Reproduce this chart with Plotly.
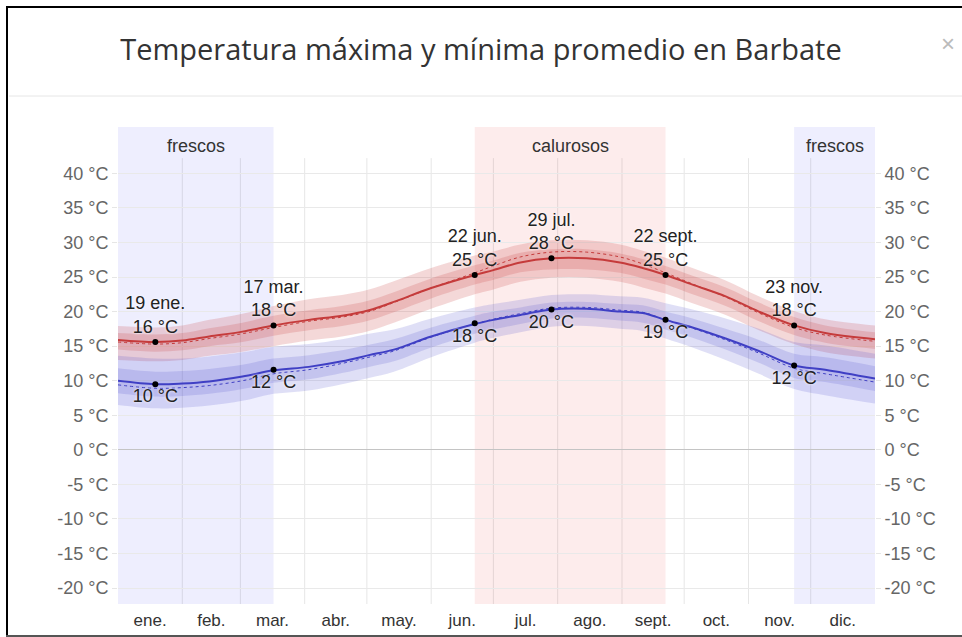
import plotly.graph_objects as go

# ---------------- data (day of year, °C) ----------------
days = [0, 18, 31, 44, 60, 75, 92, 108, 121, 133, 151, 172, 181, 194, 209, 226, 242, 253, 264, 277, 293, 309, 326, 341, 365]

max_avg = [15.9, 15.6, 15.8, 16.4, 17.1, 18.0, 18.8, 19.4, 20.2, 21.4, 23.4, 25.3, 26.0, 27.1, 27.7, 27.7, 27.1, 26.3, 25.3, 23.9, 22.2, 20.0, 18.0, 16.9, 16.0]
max_p90 = [17.9, 17.7, 18.0, 18.8, 19.7, 20.8, 21.8, 22.4, 23.2, 24.4, 26.3, 28.1, 28.7, 29.7, 30.3, 30.3, 29.7, 28.8, 27.8, 26.3, 24.5, 22.2, 20.1, 18.9, 18.0]
max_p75 = [16.9, 16.7, 16.9, 17.6, 18.4, 19.4, 20.2, 20.8, 21.6, 22.8, 24.8, 26.7, 27.4, 28.5, 29.0, 29.0, 28.4, 27.6, 26.6, 25.2, 23.5, 21.3, 19.2, 18.0, 17.0]
max_p25 = [14.5, 14.2, 14.4, 15.0, 15.6, 16.5, 17.3, 17.9, 18.7, 19.9, 21.9, 23.9, 24.6, 25.7, 26.1, 26.1, 25.6, 24.8, 23.9, 22.5, 20.8, 18.6, 16.6, 15.5, 14.6]
max_p10 = [13.0, 12.8, 13.0, 13.6, 14.2, 15.0, 15.8, 16.4, 17.2, 18.4, 20.4, 22.5, 23.2, 24.3, 24.9, 24.9, 24.3, 23.5, 22.6, 21.2, 19.5, 17.3, 15.3, 14.1, 13.2]
max_feel = [15.6, 15.3, 15.5, 16.1, 16.8, 17.7, 18.6, 19.2, 20.0, 21.3, 23.4, 25.6, 26.6, 27.9, 28.6, 28.6, 27.9, 26.9, 25.6, 24.0, 22.1, 19.8, 17.7, 16.6, 15.7]

min_avg = [10.0, 9.5, 9.6, 9.9, 10.6, 11.5, 12.0, 12.8, 13.7, 14.5, 16.4, 18.2, 18.8, 19.5, 20.3, 20.4, 20.0, 19.8, 18.8, 17.7, 16.1, 14.3, 12.2, 11.6, 10.3]
min_p90 = [13.6, 13.2, 13.2, 13.5, 14.1, 14.9, 15.3, 16.0, 16.8, 17.4, 19.0, 20.6, 21.1, 21.7, 22.4, 22.5, 22.2, 22.0, 21.2, 20.3, 19.0, 17.5, 15.6, 15.1, 13.9]
min_p75 = [11.8, 11.3, 11.4, 11.7, 12.3, 13.2, 13.7, 14.4, 15.2, 16.0, 17.7, 19.4, 20.0, 20.6, 21.3, 21.4, 21.1, 20.9, 20.0, 19.0, 17.5, 15.9, 13.9, 13.4, 12.1]
min_p25 = [8.2, 7.7, 7.8, 8.1, 8.8, 9.7, 10.2, 11.1, 12.0, 12.8, 14.8, 16.8, 17.4, 18.2, 19.0, 19.1, 18.7, 18.4, 17.4, 16.2, 14.5, 12.6, 10.4, 9.8, 8.5]
min_p10 = [6.5, 6.0, 6.1, 6.4, 7.1, 8.1, 8.6, 9.5, 10.4, 11.3, 13.4, 15.5, 16.2, 17.0, 17.8, 17.9, 17.5, 17.2, 16.1, 14.8, 13.0, 11.0, 8.8, 7.9, 6.7]
min_feel = [9.4, 8.9, 9.0, 9.3, 10.0, 11.0, 11.6, 12.5, 13.4, 14.3, 16.3, 18.2, 18.9, 19.7, 20.5, 20.6, 20.2, 19.9, 18.8, 17.6, 15.9, 14.0, 11.8, 11.0, 9.8]

# highlighted points
key_days = [18, 75, 172, 209, 264, 326]
key_dates = ["19 ene.", "17 mar.", "22 jun.", "29 jul.", "22 sept.", "23 nov."]
key_max = [15.6, 18.0, 25.3, 27.7, 25.3, 18.0]
key_max_lbl = [16, 18, 25, 28, 25, 18]
key_min = [9.5, 11.6, 18.3, 20.3, 18.8, 12.2]
key_min_lbl = [10, 12, 18, 20, 19, 12]

# seasons
season_names = ["frescos", "calurosos", "frescos"]
season_start = [0, 172, 326]
season_end = [75, 264, 365]

month_starts = [0, 31, 59, 90, 120, 151, 181, 212, 243, 273, 304, 334, 365]
month_labels = ["ene.", "feb.", "mar.", "abr.", "may.", "jun.", "jul.", "ago.", "sept.", "oct.", "nov.", "dic."]

y_ticks = [-20, -15, -10, -5, 0, 5, 10, 15, 20, 25, 30, 35, 40]

# ---------------- figure ----------------
W, H = 962, 637
ML, MR, MT, MB = 118, 87, 127, 33
PW, PH = W - ML - MR, H - MT - MB
Y_RANGE = [-22.3, 46.7]
FONT = "Liberation Sans, Arial, sans-serif"

def px_x(p):
    return (p - ML) / PW

def px_y(p):
    return (H - MB - p) / PH

RED = "#c53b3b"
BLUE = "#3f3fc4"
RED_BAND = "rgba(205,70,70,0.21)"
BLUE_BAND = "rgba(80,80,205,0.18)"

fig = go.Figure()

def band(lo, hi, color):
    fig.add_trace(go.Scatter(x=days, y=lo, mode="lines", line=dict(width=0, shape="spline"),
                             hoverinfo="skip", showlegend=False))
    fig.add_trace(go.Scatter(x=days, y=hi, mode="lines", line=dict(width=0, shape="spline"),
                             fill="tonexty", fillcolor=color, hoverinfo="skip", showlegend=False))

band(max_p10, max_p90, RED_BAND)
band(max_p25, max_p75, RED_BAND)
band(min_p10, min_p90, BLUE_BAND)
band(min_p25, min_p75, BLUE_BAND)

fig.add_trace(go.Scatter(x=days, y=max_feel, mode="lines",
                         line=dict(color=RED, width=1, dash="dot", shape="spline"), showlegend=False))
fig.add_trace(go.Scatter(x=days, y=min_feel, mode="lines",
                         line=dict(color=BLUE, width=1, dash="dot", shape="spline"), showlegend=False))
fig.add_trace(go.Scatter(x=days, y=max_avg, mode="lines",
                         line=dict(color=RED, width=2, shape="spline"), showlegend=False))
fig.add_trace(go.Scatter(x=days, y=min_avg, mode="lines",
                         line=dict(color=BLUE, width=2, shape="spline"), showlegend=False))

label_font = dict(family=FONT, size=18, color="#222", shadow="0px 0px 3px white")
fig.add_trace(go.Scatter(
    x=key_days, y=key_max, mode="markers+text",
    marker=dict(color="black", size=6),
    text=[f"{d}<br>{v} °C" for d, v in zip(key_dates, key_max_lbl)],
    textposition="top center", textfont=label_font, showlegend=False))
fig.add_trace(go.Scatter(
    x=key_days, y=key_min, mode="markers+text",
    marker=dict(color="black", size=6),
    text=[f"{v} °C" for v in key_min_lbl],
    textposition="bottom center", textfont=label_font, showlegend=False))

# invisible trace for the right axis
fig.add_trace(go.Scatter(x=[days[0]], y=[y_ticks[0]], yaxis="y2", mode="markers",
                         marker=dict(opacity=0), showlegend=False, hoverinfo="skip"))

shapes = []
for name, s, e in zip(season_names, season_start, season_end):
    shapes.append(dict(type="rect", xref="x", yref="paper", x0=s, x1=e, y0=0, y1=1,
                       fillcolor="#fdecec" if name == "calurosos" else "#eeeefe",
                       line=dict(width=0), layer="below"))
for m in month_starts[1:-1]:
    shapes.append(dict(type="line", xref="x", yref="y", x0=m, x1=m, y0=Y_RANGE[0], y1=42.2,
                       line=dict(color="rgba(0,0,0,0.10)", width=1), layer="below"))
# page frame and header separator
shapes.append(dict(type="line", xref="paper", yref="paper", x0=px_x(9), x1=px_x(962),
                   y0=px_y(96), y1=px_y(96), line=dict(color="#e6e6e6", width=1)))
shapes.append(dict(type="line", xref="paper", yref="paper", x0=px_x(7), x1=px_x(7),
                   y0=px_y(6), y1=px_y(637), line=dict(color="black", width=2)))
shapes.append(dict(type="line", xref="paper", yref="paper", x0=px_x(6), x1=px_x(965),
                   y0=px_y(7), y1=px_y(7), line=dict(color="black", width=2)))
shapes.append(dict(type="line", xref="paper", yref="paper", x0=px_x(6), x1=px_x(965),
                   y0=px_y(636), y1=px_y(636), line=dict(color="#555", width=2)))

annotations = []
for name, s, e in zip(season_names, season_start, season_end):
    annotations.append(dict(x=(s + e) / 2, y=px_y(146), xref="x", yref="paper", text=name,
                            xanchor="center", yanchor="middle", showarrow=False,
                            font=dict(family=FONT, size=18, color="#333")))
annotations.append(dict(x=px_x(948), y=px_y(43), xref="paper", yref="paper", text="×",
                        xanchor="center", yanchor="middle", showarrow=False,
                        font=dict(family=FONT, size=24, color="#bbb")))

month_mid = [(a + b) / 2 for a, b in zip(month_starts[:-1], month_starts[1:])]
tick_text = [f"{v} °C" for v in y_ticks]

yaxis_common = dict(range=Y_RANGE, tickvals=y_ticks, ticktext=tick_text,
                    tickfont=dict(family=FONT, size=18, color="#666"),
                    ticks="outside", ticklen=5, tickcolor="#e6e6e6", fixedrange=True)

fig.update_layout(
    width=W, height=H,
    margin=dict(l=ML, r=MR, t=MT, b=MB, autoexpand=False),
    paper_bgcolor="white", plot_bgcolor="white",
    showlegend=False,
    title=dict(text="Temperatura máxima y mínima promedio en Barbate",
               x=0.5, xref="container", y=1 - 50 / H, yref="container", yanchor="middle", xanchor="center",
               font=dict(family="Open Sans, sans-serif", size=29, color="#333")),
    xaxis=dict(range=[0, 365], tickvals=month_mid, ticktext=month_labels, showgrid=False,
               zeroline=False, showline=False, ticks="", ticklabelstandoff=4, fixedrange=True,
               tickfont=dict(family=FONT, size=17, color="#333")),
    yaxis=dict(**yaxis_common, showgrid=True, gridcolor="#e9e9e9", gridwidth=1,
               zeroline=True, zerolinecolor="#c4c4c4", zerolinewidth=1),
    yaxis2=dict(**yaxis_common, overlaying="y", side="right", showgrid=False, zeroline=False),
    shapes=shapes,
    annotations=annotations,
)

fig.write_html("out.html", config={"displayModeBar": False},
               post_script="document.body.style.margin='0';document.body.style.overflow='hidden';")
